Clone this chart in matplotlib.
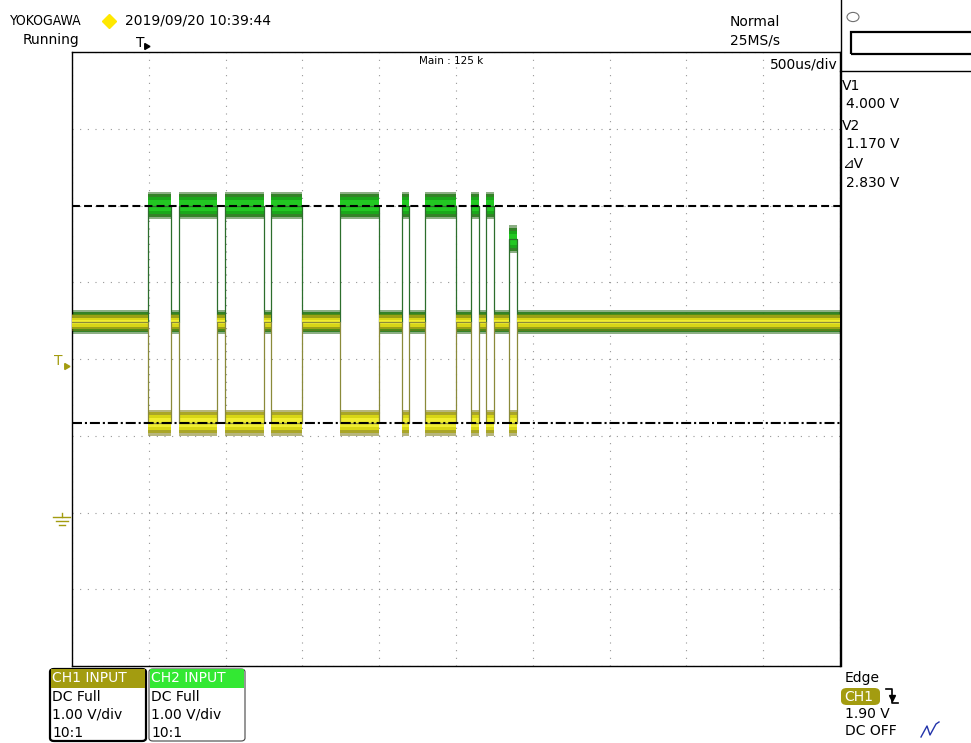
import numpy as np
import matplotlib.pyplot as plt
from matplotlib.lines import Line2D
from matplotlib.patches import FancyBboxPatch, Rectangle, Circle

W, H = 971, 743

# timebase 500 us/div, 10 div on screen -> ms
time_span_ms = 5.0
frame_start_ms = 0.497
bit_ms = 0.05

# dominant bits, counted from the first falling edge
dom_start_bits = [0, 4, 10, 16, 25, 33, 36, 42, 44, 47]
dom_end_bits = [3, 9, 15, 20, 30, 34, 40, 43, 45, 48]

recessive_v = 2.48
ch1_dom_v = [1.17, 1.17, 1.17, 1.17, 1.17, 1.17, 1.17, 1.17, 1.17, 1.17]
ch2_dom_v = [4.0, 4.0, 4.0, 4.0, 4.0, 4.0, 4.0, 4.0, 4.0, 3.56]

cursor_v1 = 4.0
cursor_v2 = 1.17
trig_level = 1.90


def wave(levels):
    t = [0.0]
    v = [recessive_v]
    for s, e, lv in zip(dom_start_bits, dom_end_bits, levels):
        ts = frame_start_ms + s * bit_ms
        te = frame_start_ms + e * bit_ms
        t += [ts, ts, te, te]
        v += [recessive_v, lv, lv, recessive_v]
    t.append(time_span_ms)
    v.append(recessive_v)
    return np.array(t), np.array(v)


def px(x, y):
    return x / W, 1 - y / H


def ftext(x, y, s, **kw):
    kw.setdefault('fontsize', 10)
    kw.setdefault('va', 'center')
    fig.text(*px(x, y), s, **kw)


def fline(xs, ys, **kw):
    fx = [x / W for x in xs]
    fy = [1 - y / H for y in ys]
    fig.add_artist(Line2D(fx, fy, **kw))


def band(t, v, idle, layers, z):
    # layers: (idle half width, dominant half width, colour, alpha)
    for hw_idle, hw_dom, col, a in layers:
        hw = np.where(idle, hw_idle, hw_dom)
        ax.fill_between(t, v - hw, v + hw, color=col, lw=0, alpha=a, zorder=z)


fig = plt.figure(figsize=(W / 100, H / 100), dpi=100)
ax = fig.add_axes([72 / W, 1 - 666 / H, (840 - 72) / W, (666 - 52) / H])
ax.set_xlim(0, time_span_ms)
ax.set_ylim(-2, 6)
ax.set_xticks(np.arange(0, 5.01, 0.5))
ax.set_yticks(np.arange(-2, 6.01, 1))
ax.tick_params(length=0, labelbottom=False, labelleft=False)
ax.grid(color='#8c8c8c', lw=0.8, ls=(0, (0.9, 6.0)))
ax.set_axisbelow(True)
for sp in ax.spines.values():
    sp.set_linewidth(1.0)
    sp.set_color('black')

# CH2 (green)
t2, v2 = wave(ch2_dom_v)
idle2 = np.isclose(v2, recessive_v)
band(t2, v2, idle2, [(0.16, 0.18, '#2f6e22', 0.55),
                     (0.13, 0.15, '#2a7d1e', 0.9),
                     (0.10, 0.11, '#1aa81a', 1.0),
                     (0.06, 0.07, '#22c822', 1.0)], 2)
ax.plot(t2, v2, color='#2c6e2c', lw=0.9, zorder=2)

# CH1 (yellow)
t1, v1 = wave(ch1_dom_v)
idle1 = np.isclose(v1, recessive_v)
band(t1, v1, idle1, [(0.11, 0.17, '#7d7a10', 0.55),
                     (0.09, 0.14, '#a8a418', 0.85),
                     (0.06, 0.10, '#d8d616', 1.0),
                     (0.03, 0.06, '#f0ee30', 1.0)], 3)
ax.plot(t1, v1, color='#8a8a3a', lw=0.9, zorder=3)

# cursors
ax.axhline(cursor_v1, color='black', lw=1.5, ls=(0, (3.8, 2.0)), zorder=5)
ax.axhline(cursor_v2, color='black', lw=1.5, ls=(0, (4.8, 1.4, 1.0, 1.4)), zorder=5)

# header
ftext(10, 21, 'YOKOGAWA', fontsize=10, fontstretch='condensed')
fig.add_artist(Line2D([109 / W], [1 - 21 / H], marker='D', ms=7, color='#ffe800', lw=0))
ftext(125, 21, '2019/09/20 10:39:44')
ftext(23, 40, 'Running')
ftext(136, 43, 'T', fontsize=10)
fig.add_artist(Line2D([146 / W], [1 - 46 / H], marker=(3, 0, 30), ms=5, color='black', lw=0))
ftext(755, 22, 'Normal', ha='center')
ftext(755, 40, '25MS/s', ha='center')
ftext(451, 61, 'Main : 125 k', fontsize=7.5, ha='center')
ftext(838, 65, '500us/div', ha='right')

# right panel
fline([840.5, 840.5], [0, 666], color='black', lw=1)
fline([840, 971], [71, 71], color='black', lw=1)
fig.add_artist(Rectangle(px(851, 54), 125 / W, 22 / H, fill=False, ec='black', lw=1.6))
fig.add_artist(Circle(px(853, 17), 6 / W, fill=False, ec='#707070', lw=0.8))
ftext(842, 86, 'V1')
ftext(846, 104, '4.000 V')
ftext(842, 126, 'V2')
ftext(846, 144, '1.170 V')
ftext(842, 164, '⊿V')
ftext(846, 183, '2.830 V')

# trigger level and ground markers (CH1)
olive = '#a39c10'
ftext(54, 361, 'T', color=olive, fontsize=10)
fig.add_artist(Line2D([66 / W], [1 - 366 / H], marker=(3, 0, 30), ms=5, color=olive, lw=0))
fline([53, 70], [517, 517], color=olive, lw=1)
fline([62, 62], [513, 517], color=olive, lw=1)
fline([56, 68], [521, 521], color=olive, lw=1)
fline([59, 65], [525, 525], color=olive, lw=1)


# channel boxes
def ch_box(x0, title, head_color, edge_lw, edge_color):
    fig.add_artist(FancyBboxPatch(px(x0, 741), 96 / W, 72 / H,
                                  boxstyle='round,pad=0,rounding_size=0.004',
                                  fc='white', ec=edge_color, lw=edge_lw))
    fig.add_artist(Rectangle(px(x0 + 1, 688), 94 / W, 19 / H, fc=head_color, lw=0))
    ftext(x0 + 2, 678, title, color='white')
    ftext(x0 + 2, 697, 'DC Full')
    ftext(x0 + 2, 715, '1.00 V/div')
    ftext(x0 + 2, 733, '10:1')


ch_box(50, 'CH1 INPUT', olive, 1.6, 'black')
ch_box(149, 'CH2 INPUT', '#33e833', 0.8, '#444444')

# trigger section
ftext(845, 678, 'Edge')
fig.add_artist(FancyBboxPatch(px(841, 705), 39 / W, 17 / H,
                              boxstyle='round,pad=0,rounding_size=0.006',
                              fc=olive, lw=0))
ftext(844, 697, 'CH1', color='white')
fline([886, 892, 892, 898], [689, 689, 703, 703], color='black', lw=1.2)
fig.add_artist(Line2D([892 / W], [1 - 698 / H], marker='v', ms=4, color='black', lw=0))
ftext(845, 714, '1.90 V')
ftext(845, 731, 'DC OFF')
fline([921, 927, 930, 936, 939], [737, 726, 735, 724, 722], color='#2233aa', lw=1)

fig.savefig('out.png', dpi=100)
